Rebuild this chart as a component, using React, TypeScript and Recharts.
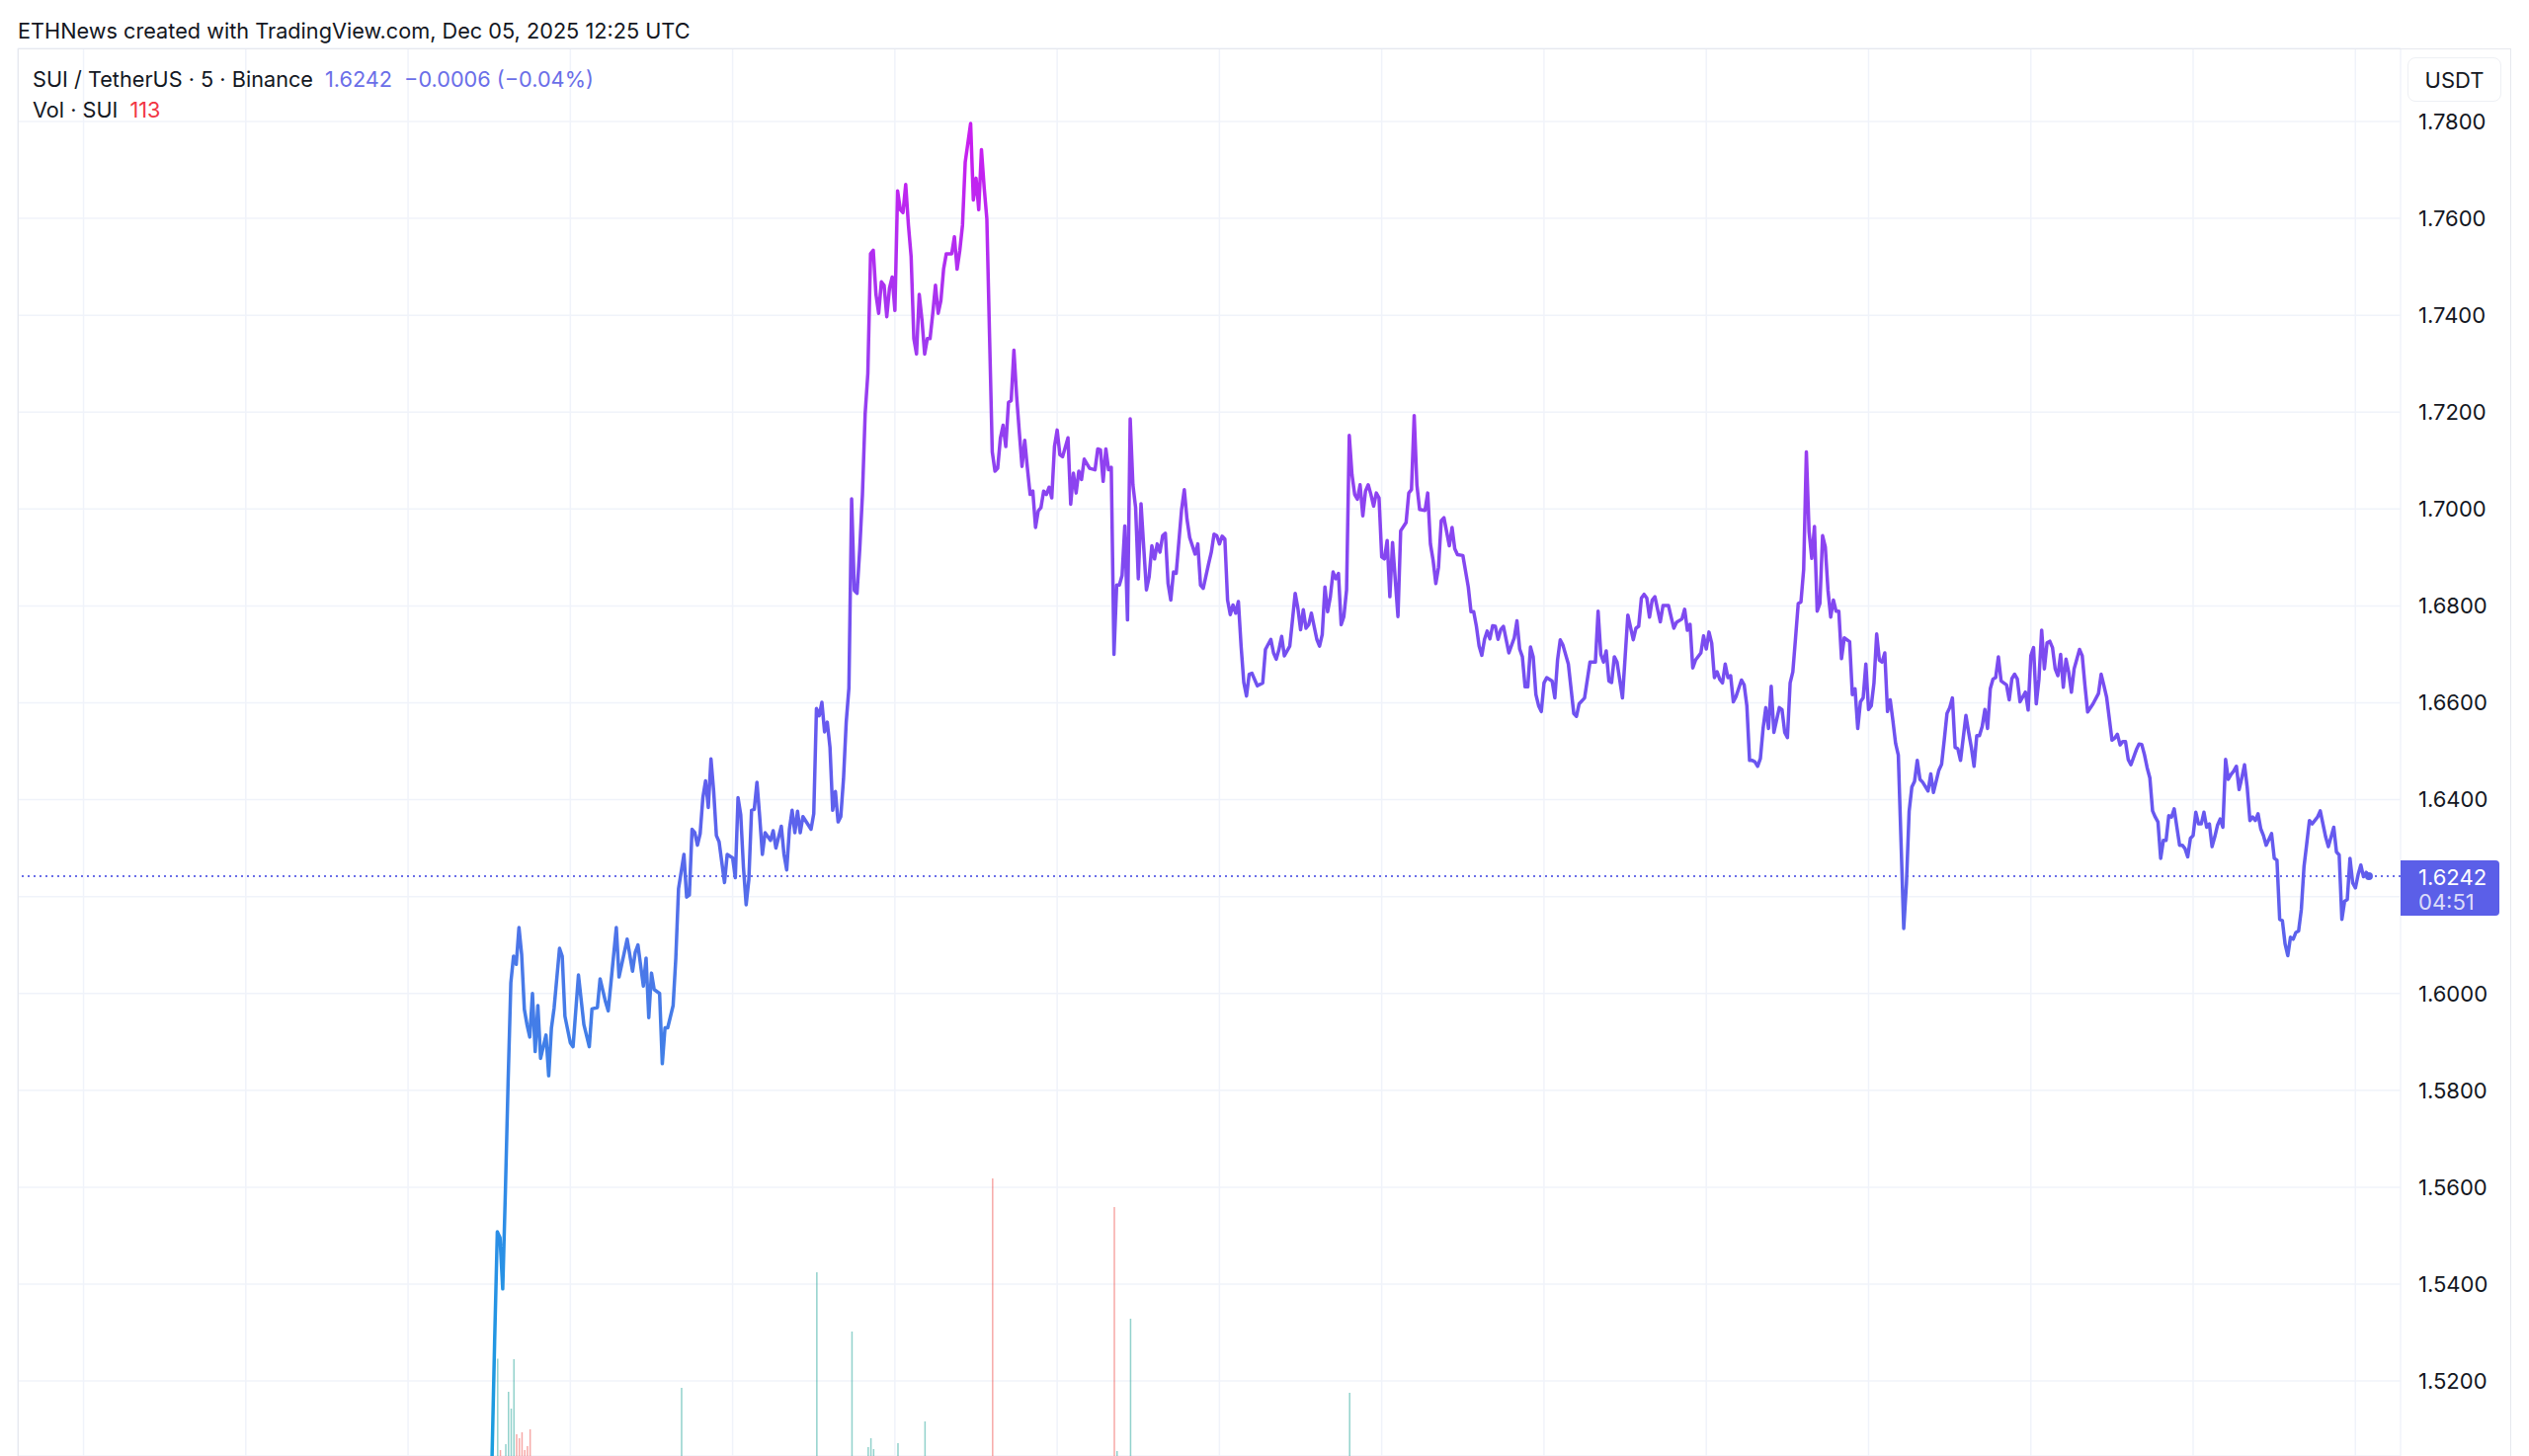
import React from "react";
import {
  Bar,
  CartesianGrid,
  Cell,
  ComposedChart,
  Line,
  ReferenceDot,
  ReferenceLine,
  XAxis,
  YAxis,
} from "recharts";

// 5 minute candles, counted from the grid line just left of the first close
const FIRST_BAR = 30;

// closes, one per candle (null where not read)
const closes: (number | null)[] = [
  1.49, 1.503, 1.528, 1.5508, 1.5496, 1.539, 1.5594, 1.582, 1.6022, 1.6077,
  1.606, 1.6136, 1.608, 1.5967, 1.5935, 1.591, 1.6, 1.588, 1.5975, 1.5866,
  null, 1.5914, 1.583, 1.5928, 1.597, null, 1.6093, 1.6077, 1.5953, null,
  1.5898, 1.589, null, 1.6038, null, 1.5936, null, 1.589, 1.5968, null,
  1.5971, 1.603, null, 1.5983, 1.5964, null, null, 1.6136, 1.6034, null,
  null, 1.6112, null, 1.6046, 1.6085, 1.61, null, 1.6015, 1.6073, 1.595,
  1.6042, 1.6008, null, 1.6, 1.5855, 1.5929, 1.5929, null, 1.5975, 1.6073,
  1.6216, null, 1.6287, 1.6199, 1.6203, 1.6339, 1.6332, 1.6306, 1.633, 1.6404,
  1.6439, 1.6384, 1.6484, 1.6417, 1.6326, 1.6313, null, 1.6229, 1.6287, null,
  1.628, 1.6239, 1.6404, 1.6369, 1.6261, 1.6183, 1.6235, 1.6378, 1.638, 1.6436,
  1.6365, 1.6287, 1.6332, null, 1.6316, 1.6336, 1.63, null, 1.6345, 1.6287,
  1.6255, 1.6339, 1.6378, 1.6332, 1.6376, 1.6332, 1.6365, null, null, 1.6339,
  1.6371, 1.6588, 1.6573, 1.6601, 1.654, 1.656, 1.6508, 1.6378, 1.6417, 1.6354,
  1.6365, 1.6443, 1.656, 1.6631, 1.7021, 1.6832, 1.6826, 1.6917, 1.703, 1.7196,
  1.728, 1.7527, 1.7534, 1.7443, 1.7404, 1.7469, 1.7462, 1.7397, 1.7456, 1.7479,
  1.741, 1.7657, 1.7618, 1.7612, 1.767, 1.7586, 1.7521, 1.7352, 1.732, 1.7443,
  1.7391, 1.732, 1.7352, 1.7352, 1.7404, 1.7462, 1.7404, 1.743, 1.7495, 1.7527,
  null, 1.7527, 1.7562, 1.7495, 1.7534, 1.7586, 1.7716, null, 1.7796, 1.7638,
  1.7683, 1.7618, 1.7742, 1.7664, 1.7599, 1.7356, 1.7118, 1.7078, 1.7084, 1.7146,
  1.7173, 1.7129, 1.722, 1.7224, 1.7328, 1.7234, 1.7159, 1.7088, 1.7142, 1.7084,
  1.703, 1.7037, 1.6962, 1.6996, 1.7003, 1.7037, 1.703, 1.7045, 1.7023, 1.7129,
  1.7163, 1.7112, 1.7108, null, 1.7147, 1.701, 1.7074, 1.7033, 1.7078, 1.7061,
  1.7103, null, 1.7084, null, 1.7081, 1.7124, 1.7122, 1.7057, 1.7124, 1.7081,
  1.7086, 1.67, 1.6843, 1.6843, 1.6863, 1.6965, 1.6771, 1.7186, 1.705, 1.7003,
  1.6856, 1.7011, 1.6921, 1.6833, 1.686, 1.6924, 1.6897, 1.6928, 1.6911, 1.6945,
  1.695, 1.6846, 1.6812, 1.687, 1.6867, null, 1.6999, 1.704, 1.6979, 1.6941,
  null, 1.6907, 1.6928, 1.6843, 1.6836, null, 1.6887, 1.6911, 1.6948, 1.6945,
  1.6928, 1.6944, 1.6938, 1.6812, 1.6782, 1.6802, 1.6785, 1.6809, 1.6717, 1.6642,
  1.6614, 1.6659, 1.6661, null, 1.6635, null, 1.6641, 1.671, null, 1.6731,
  1.6703, 1.669, 1.671, 1.6737, 1.6697, null, 1.6717, 1.6771, 1.6826, 1.6795,
  1.6751, 1.6792, 1.6754, 1.6761, 1.6785, 1.6758, 1.6731, 1.6717, 1.6741, 1.6839,
  1.6788, 1.6819, 1.687, 1.6856, 1.6867, 1.6761, 1.6778, 1.6833, 1.7152, 1.7071,
  1.703, 1.702, 1.705, 1.6986, 1.7037, 1.705, 1.703, 1.7006, 1.7033, 1.7023,
  1.6901, 1.6897, 1.6935, 1.6819, 1.6931, null, 1.6778, 1.6955, null, 1.6972,
  1.7033, 1.704, 1.7193, 1.705, 1.6999, null, 1.6997, 1.7033, 1.6928, 1.6894,
  1.6846, 1.688, 1.6976, 1.6982, null, 1.6924, 1.6962, 1.6918, 1.6906, null,
  1.6904, null, 1.6839, 1.6788, 1.6788, 1.6758, 1.6717, 1.6698, 1.6731, 1.6748,
  1.6732, 1.6759, 1.6758, 1.6731, 1.6751, 1.6758, null, 1.6703, null, 1.6734,
  1.6769, 1.6711, 1.6695, 1.6633, 1.6633, 1.6715, 1.6695, 1.6617, 1.6594, 1.6582,
  1.6641, 1.6652, null, 1.6645, 1.661, 1.6688, 1.673, 1.6719, null, 1.668,
  null, 1.6578, 1.6572, 1.6598, null, 1.661, null, 1.6684, null, 1.6684,
  1.6789, 1.67, 1.6684, 1.6707, 1.6645, 1.6642, 1.6695, 1.6684, null, 1.661,
  1.6695, 1.6781, null, 1.673, 1.6754, 1.6758, 1.6816, 1.6824, 1.6816, 1.6777,
  1.6812, 1.6819, null, 1.6767, 1.6801, null, 1.6801, 1.6777, 1.6754, 1.6766,
  null, 1.6773, 1.6793, 1.675, 1.6762, 1.6672, 1.6688, null, 1.6703, 1.6738,
  1.6711, 1.6746, 1.6723, 1.6652, 1.6664, 1.6648, 1.6641, 1.668, 1.6652, 1.6656,
  1.6602, 1.6613, null, 1.6647, 1.6637, 1.6594, 1.6481, 1.6481, 1.6478, 1.6469,
  1.6485, 1.6547, 1.659, 1.6547, 1.6634, 1.6539, null, 1.659, 1.6586, 1.6539,
  1.6528, 1.6641, 1.6664, 1.6734, 1.6805, 1.6808, 1.6875, 1.7118, 1.6953, 1.6898,
  1.6964, 1.6789, 1.6805, 1.6945, 1.6922, 1.6832, 1.6777, 1.6812, 1.6789, 1.6789,
  1.6691, 1.6734, null, 1.6726, 1.6617, 1.6629, 1.6547, 1.6602, 1.661, 1.668,
  1.6586, 1.6594, 1.6641, 1.6742, 1.6688, 1.6684, 1.6703, 1.6582, 1.6606, 1.6563,
  1.6516, 1.6492, 1.6313, 1.6134, 1.6227, 1.6376, 1.6426, 1.6438, 1.6481, 1.6442,
  1.6436, null, 1.6418, 1.6453, 1.6415, null, 1.6461, 1.6473, 1.6524, 1.6578,
  1.659, 1.661, 1.6508, 1.6505, 1.6481, null, 1.6574, 1.6539, 1.6508, 1.6469,
  1.6532, 1.6532, 1.6551, 1.6586, 1.6547, 1.6629, 1.6649, 1.6652, 1.6695, 1.6645,
  null, 1.6637, 1.6606, 1.665, 1.6659, 1.6649, 1.6602, null, 1.6622, 1.6585,
  1.6697, 1.6714, 1.6598, 1.6649, 1.675, 1.667, 1.6724, 1.6727, 1.6714, 1.667,
  1.6656, 1.67, 1.6632, 1.669, 1.6663, 1.6622, 1.667, null, 1.671, 1.6697,
  1.6636, 1.6581, null, 1.6598, null, 1.6619, 1.6659, 1.6636, 1.6612, 1.6568,
  1.6523, 1.6527, 1.6535, 1.6513, 1.652, 1.652, 1.6483, 1.6472, null, 1.6503,
  1.6515, 1.6514, 1.6493, 1.6466, 1.6445, 1.6377, 1.6364, 1.6354, 1.6279, 1.6316,
  1.6316, 1.6367, 1.6364, 1.6381, 1.6343, 1.6306, 1.6306, 1.6299, 1.6282, 1.632,
  1.6326, 1.6374, 1.635, 1.635, 1.6374, 1.6343, 1.635, 1.6303, 1.6323, 1.6347,
  1.636, 1.6343, 1.6483, 1.6442, 1.6452, 1.6459, 1.6469, 1.6421, 1.6445, 1.6472,
  1.6425, 1.6357, 1.6364, 1.6357, 1.6371, 1.634, 1.6326, 1.6306, null, 1.633,
  1.6279, 1.6275, 1.6153, 1.615, 1.6102, 1.6078, 1.6116, 1.6112, 1.6126, 1.6129,
  1.6173, 1.6262, 1.6309, 1.6357, 1.635, null, 1.6364, 1.6377, 1.635, 1.6323,
  1.6303, null, 1.6343, 1.6292, 1.6286, 1.6153, 1.619, 1.6194, 1.6279, 1.6228,
  1.6218, 1.6245, 1.6265, 1.6241, 1.625, 1.6242,
];

// only the volume bars tall enough to show above the bottom edge (thousand SUI)
const volumeBars = [31, 33, 34, 36, 37, 38, 39, 40, 41, 42, 43, 44, 45, 101, 151, 164, 170, 171, 172, 181, 191, 216, 261, 262, 267, 348];
const volumes = [90, 984, 60, 120, 650, 480, 980, 220, 180, 240, 60, 100, 270, 690, 1860, 1260, 90, 180, 70, 130, 350, 2810, 2520, 50, 1390, 640];
const volumeUp = [true, true, false, true, true, true, true, false, false, false, false, false, false, true, true, true, true, true, true, true, true, false, false, true, true, true];

const priceTicks = [1.52, 1.54, 1.56, 1.58, 1.6, 1.62, 1.64, 1.66, 1.68, 1.7, 1.72, 1.74, 1.76, 1.78];
// the axis hides the label that sits under the last price tag
const hiddenTick = 1.62;
const timeTicks = [-120, -60, 0, 60, 120, 180, 240, 300, 360, 420, 480, 540, 600, 660, 720];

const lastPrice = 1.6242;
const lastBar = FIRST_BAR + closes.length - 1;

const rows = closes.map((close, i) => {
  const bar = FIRST_BAR + i;
  const v = volumeBars.indexOf(bar);
  return {
    bar,
    close,
    volume: v >= 0 ? volumes[v] : null,
    up: v >= 0 ? volumeUp[v] : true,
  };
});

const FONT = "Inter, 'Noto Sans', sans-serif";
const INK = "#131722";
const ACCENT = "#6a6ee8";

function PriceTag(props: any) {
  const vb = props.viewBox;
  if (!vb) return null;
  const x = vb.x + vb.width;
  const y = vb.y;
  return (
    <g>
      <path
        d={`M${x},${y - 16} h96 a4,4 0 0 1 4,4 v48 a4,4 0 0 1 -4,4 h-96 z`}
        fill="#5b5fe8"
      />
      <text x={x + 18} y={y + 1} fill="#ffffff" fontSize={22} fontFamily={FONT} dominantBaseline="central">
        {lastPrice.toFixed(4)}
      </text>
      <text x={x + 18} y={y + 26} fill="#ffffff" fillOpacity={0.8} fontSize={22} fontFamily={FONT} dominantBaseline="central">
        04:51
      </text>
    </g>
  );
}

export default function App() {
  return (
    <div
      style={{
        position: "fixed",
        left: 0,
        top: 0,
        width: 2560,
        height: 1474,
        overflow: "hidden",
        background: "#ffffff",
        fontFamily: FONT,
        color: INK,
      }}
    >
      <ComposedChart
        width={2560}
        height={1474}
        data={rows}
        margin={{ top: 49, right: 18, bottom: 0, left: 18 }}
      >
        <defs>
          <linearGradient id="suiLine" x1="0" y1="1" x2="0.1" y2="0">
            <stop offset="0" stopColor="#12a4dc" />
            <stop offset="0.2" stopColor="#2a8fe6" />
            <stop offset="0.4" stopColor="#4a78e8" />
            <stop offset="0.5" stopColor="#5a64ec" />
            <stop offset="0.62" stopColor="#6c54f0" />
            <stop offset="0.72" stopColor="#8248f0" />
            <stop offset="0.85" stopColor="#9e3af0" />
            <stop offset="1" stopColor="#c81ff0" />
          </linearGradient>
        </defs>

        <CartesianGrid yAxisId="price" stroke="#f0f3fa" strokeWidth={1.5} />

        <XAxis
          type="number"
          dataKey="bar"
          domain={[-144.3, 736.7]}
          ticks={timeTicks}
          allowDataOverflow
          hide
        />
        <YAxis
          yAxisId="price"
          orientation="right"
          width={112}
          domain={[1.50451, 1.79509]}
          ticks={priceTicks}
          interval={0}
          allowDataOverflow
          axisLine={false}
          tickLine={false}
          tickSize={0}
          tickMargin={18}
          tick={{ fill: INK, fontSize: 22, fontFamily: FONT }}
          tickFormatter={(v: number) => (Math.abs(v - hiddenTick) < 1e-6 ? "" : v.toFixed(4))}
        />
        <YAxis yAxisId="vol" hide domain={[0, 14250]} allowDataOverflow />

        <Bar yAxisId="vol" dataKey="volume" barSize={1.5} isAnimationActive={false}>
          {rows.map((r) => (
            <Cell
              key={r.bar}
              fill={r.up ? "#26a69a" : "#ef5350"}
              fillOpacity={0.5}
            />
          ))}
        </Bar>

        <ReferenceLine
          yAxisId="price"
          y={lastPrice}
          stroke={ACCENT}
          strokeWidth={2}
          strokeDasharray="2 4"
          label={<PriceTag />}
        />

        <Line
          yAxisId="price"
          dataKey="close"
          type="linear"
          stroke="url(#suiLine)"
          strokeWidth={3.5}
          strokeLinejoin="round"
          dot={false}
          activeDot={false}
          connectNulls
          isAnimationActive={false}
        />

        <ReferenceDot
          yAxisId="price"
          x={lastBar}
          y={lastPrice}
          r={4}
          fill="#5b5fe8"
          stroke="none"
        />
      </ComposedChart>

      {/* pane border */}
      <div
        style={{
          position: "absolute",
          left: 18,
          top: 49,
          width: 2522,
          height: 1500,
          border: "1.5px solid #e6e8ee",
          pointerEvents: "none",
        }}
      />

      <div style={{ position: "absolute", left: 18, top: 17, fontSize: 21.7, lineHeight: "28px", whiteSpace: "nowrap" }}>
        ETHNews created with TradingView.com, Dec 05, 2025 12:25 UTC
      </div>

      <div style={{ position: "absolute", left: 33, top: 66, fontSize: 21.7, lineHeight: "28px", whiteSpace: "nowrap" }}>
        SUI / TetherUS · 5 · Binance
        <span style={{ color: ACCENT, marginLeft: 12 }}>1.6242</span>
        <span style={{ color: ACCENT, marginLeft: 12 }}>−0.0006 (−0.04%)</span>
      </div>
      <div style={{ position: "absolute", left: 33, top: 97, fontSize: 21.7, lineHeight: "28px", whiteSpace: "nowrap" }}>
        Vol · SUI
        <span style={{ color: "#f23645", marginLeft: 12 }}>113</span>
      </div>

      <div
        style={{
          position: "absolute",
          left: 2437,
          top: 58,
          width: 95,
          height: 45,
          boxSizing: "border-box",
          border: "1.5px solid #eef0f4",
          borderRadius: 8,
          fontSize: 22,
          display: "flex",
          alignItems: "center",
          justifyContent: "center",
        }}
      >
        USDT
      </div>
    </div>
  );
}
